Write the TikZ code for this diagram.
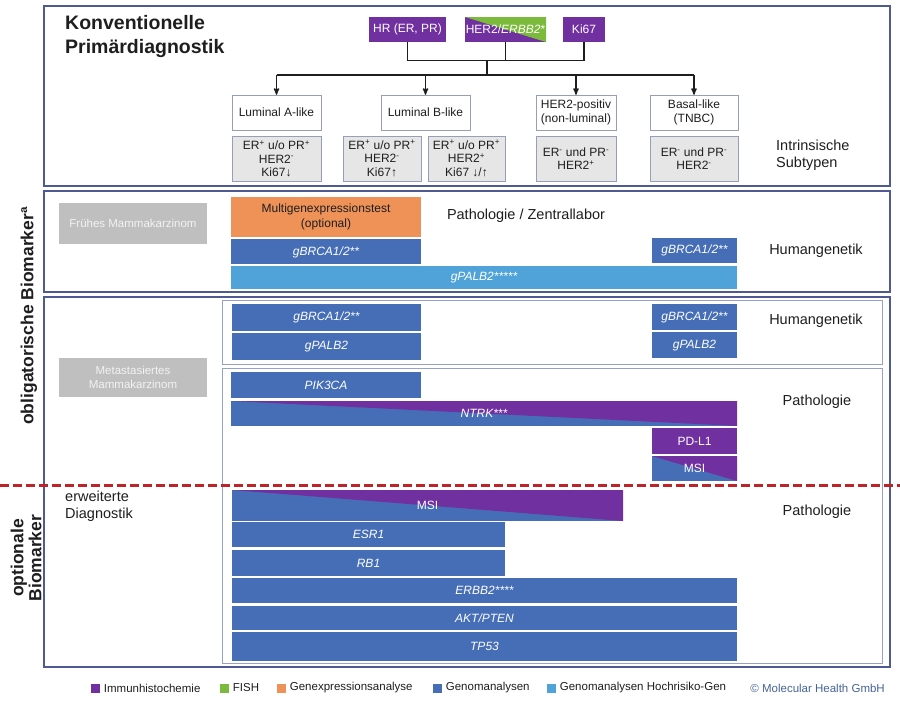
\documentclass[tikz,border=0pt]{standalone}
\usepackage{fontspec}
\setmainfont{Liberation Sans}
\usepackage{xcolor}
\definecolor{colorIHC}{RGB}{112,48,160}
\definecolor{colorFISH}{RGB}{124,186,60}
\definecolor{colorGEP}{RGB}{238,146,88}
\definecolor{colorGenom}{RGB}{70,110,182}
\definecolor{colorHighRisk}{RGB}{80,163,216}
\definecolor{colorFrame}{RGB}{78,90,145}
\definecolor{colorSubframe}{RGB}{150,160,200}
\definecolor{colorEntity}{RGB}{191,191,191}
\definecolor{colorProfile}{RGB}{230,230,230}
\definecolor{colorEdge}{RGB}{150,158,185}
\definecolor{colorCut}{RGB}{190,35,40}
\definecolor{colorText}{RGB}{30,30,30}
\definecolor{colorCopy}{RGB}{70,100,150}
\usepackage{tikz}
\usetikzlibrary{arrows, positioning}
\newcommand{\fsz}[2]{\fontsize{#1}{#2}\selectfont}
\tikzset{
  frame/.style={draw=colorFrame, line width=1.6pt},
  subframe/.style={draw=colorSubframe, line width=0.9pt},
  conn/.style={draw=colorText, line width=1.3pt},
  test/.style={fill=colorIHC, text=white, minimum height=25pt, font=\fsz{12}{14}},
  subtype/.style={draw=colorEdge, fill=white, text=colorText, align=center, minimum height=35pt, font=\fsz{12}{14.5}},
  profile/.style={draw=colorEdge, fill=colorProfile, text=colorText, align=center, minimum height=45pt, font=\fsz{12}{13.5}},
  entity/.style={fill=colorEntity, text=white!95!black, align=center, font=\fsz{11.5}{14}},
  bar/.style={fill=colorGenom, text=white, minimum height=25pt, font=\fsz{12}{14}\itshape},
  uppertri/.style={path picture={\fill[#1] (path picture bounding box.north west) -- (path picture bounding box.north east) -- (path picture bounding box.south east) -- cycle;}},
  site/.style={text=colorText, font=\fsz{14.5}{17}, align=left},
  axis/.style={rotate=90, text=colorText, font=\fsz{17.5}{18}\bfseries, align=center},
  key/.style={minimum width=9pt, minimum height=9pt},
  keytext/.style={right=4pt of #1, text=colorText, font=\fsz{11.5}{13}},
}

\begin{document}
\begin{tikzpicture}[x=1pt, y=-1pt, >=stealth', node distance=6pt, every node/.style={inner sep=0pt}]
\useasboundingbox (0,0) rectangle (900,704);
% frames
\draw[frame] (44,6) rectangle (890,186);
\draw[frame] (44,191) rectangle (890,292);
\draw[frame] (44,297) rectangle (890,667);
\draw[subframe] (222,300) rectangle (882,364);
\draw[subframe] (222,368) rectangle (882,663);

% Primaerdiagnostik
\node[anchor=north west, align=left, text=colorText, font=\fsz{19.5}{24}\bfseries] (title) at (65,15) {Konventionelle\\Primärdiagnostik};
\node[test, minimum width=77pt] (hr) at (407.5,29.5) {HR (ER, PR)};
\node[test, minimum width=81pt, uppertri=colorFISH] (her) at (505.5,29.5) {HER2/\textit{ERBB2}*};
\node[test, minimum width=42pt] (ki) at (584,29.5) {Ki67};

\node[subtype, minimum width=89pt] (lumA) at (276.5,112.5) {Luminal A-like};
\node[subtype, minimum width=89pt] (lumB) at (425.5,112.5) {Luminal B-like};
\node[subtype, minimum width=80pt] (herpos) at (576,112.5) {HER2-positiv\\(non-luminal)};
\node[subtype, minimum width=88pt] (basal) at (694,112.5) {Basal-like\\(TNBC)};

\node[profile, minimum width=89pt, below=6pt of lumA] (lumAprof) {ER\textsuperscript{+} u/o PR\textsuperscript{+}\\HER2\textsuperscript{-}\\Ki67↓};
\node[profile, minimum width=78pt] (lumBprof) at (382,158.5) {ER\textsuperscript{+} u/o PR\textsuperscript{+}\\HER2\textsuperscript{-}\\Ki67↑};
\node[profile, minimum width=77pt] (lumBprofb) at (466.5,158.5) {ER\textsuperscript{+} u/o PR\textsuperscript{+}\\HER2\textsuperscript{+}\\Ki67 ↓/↑};
\node[profile, minimum width=80pt, below=6pt of herpos] (herprof) {ER\textsuperscript{-} und PR\textsuperscript{-}\\HER2\textsuperscript{+}};
\node[profile, minimum width=88pt, below=6pt of basal] (basalprof) {ER\textsuperscript{-} und PR\textsuperscript{-}\\HER2\textsuperscript{-}};
\node[site, anchor=west] (intr) at (776,155) {Intrinsische\\Subtypen};

\coordinate (join) at (487,60);
\coordinate (bus) at (487,75);
\draw[conn] (hr.south) -- ++(0,18) -| (ki.south);
\draw[conn] (her.south) -- (her.south |- join);
\draw[conn] (join) -- (bus);
\draw[conn] (bus -| lumA) -- (bus -| basal);
\foreach \n in {lumA, lumB, herpos, basal}
  \draw[conn, ->] (bus -| \n) -- (\n.north);

% fruehes Mammakarzinom
\node[entity, minimum width=148pt, minimum height=41pt] (early) at (133,223.5) {Frühes Mammakarzinom};
\node[fill=colorGEP, text=colorText, align=center, minimum width=190pt, minimum height=40pt, font=\fsz{12}{15}] (gep) at (326,217) {Multigenexpressionstest\\(optional)};
\node[bar, minimum width=190pt, below=2pt of gep] (brcaE) {gBRCA1/2**};
\node[bar, minimum width=85pt] (brcaEr) at (694.5,250.5) {gBRCA1/2**};
\node[bar, fill=colorHighRisk, minimum width=506pt, minimum height=23pt] (palbE) at (484,277.5) {gPALB2*****};
\node[site] (lab) at (526,216) {Pathologie / Zentrallabor};
\node[site] (hgE) at (816,251) {Humangenetik};

% metastasiertes Mammakarzinom
\node[entity, minimum width=148pt, minimum height=39pt] (meta) at (133,377.5) {Metastasiertes\\Mammakarzinom};
\node[bar, minimum width=189pt, minimum height=27pt] (brcaM) at (326.5,317.5) {gBRCA1/2**};
\node[bar, minimum width=189pt, minimum height=27pt, below=2pt of brcaM] (palbM) {gPALB2};
\node[bar, minimum width=85pt, minimum height=26pt] (brcaMr) at (694.5,317) {gBRCA1/2**};
\node[bar, minimum width=85pt, minimum height=26pt, below=2pt of brcaMr] (palbMr) {gPALB2};
\node[site] (hgM) at (816,321) {Humangenetik};
\node[bar, minimum width=190pt, minimum height=26pt] (pik) at (326,385) {PIK3CA};
\node[bar, minimum width=506pt, uppertri=colorIHC] (ntrk) at (484,413.5) {NTRK***};
\node[test, minimum width=85pt, minimum height=26pt] (pdl) at (694.5,441) {PD-L1};
\node[bar, minimum width=85pt, uppertri=colorIHC, font=\fsz{12}{14}] (msiM) at (694.5,468.5) {MSI};
\node[site] (pathM) at (817,402) {Pathologie};

% optionale Biomarker
\draw[draw=colorCut, line width=3pt, dash pattern=on 9pt off 4pt] (0,485) -- (900,485);
\node[site, anchor=north west] (ext) at (65,491) {erweiterte\\Diagnostik};
\node[bar, minimum width=391pt, minimum height=31pt, uppertri=colorIHC, font=\fsz{12}{14}] (msiO) at (427.5,505.5) {MSI};
\node[bar, minimum width=273pt] (esr) at (368.5,534.5) {ESR1};
\node[bar, minimum width=273pt, minimum height=26pt] (rb) at (368.5,563) {RB1};
\node[bar, minimum width=505pt] (erbb) at (484.5,590.5) {ERBB2****};
\node[bar, minimum width=505pt, minimum height=24pt] (akt) at (484.5,618) {AKT/PTEN};
\node[bar, minimum width=505pt, minimum height=29pt] (tp) at (484.5,646.5) {TP53};
\node[site] (pathO) at (817,512) {Pathologie};

% Achsen
\node[axis] (oblig) at (29,316) {obligatorische Biomarkerª};
\node[axis] (opt) at (26,558) {optionale\\Biomarker};

% Legende
\node[key, fill=colorIHC] (kIHC) at (95,688) {};
\node[keytext=kIHC] (tIHC) {Immunhistochemie};
\node[key, fill=colorFISH] (kFISH) at (224,688) {};
\node[keytext=kFISH] (tFISH) {FISH};
\node[key, fill=colorGEP] (kGEP) at (281,688) {};
\node[keytext=kGEP] (tGEP) {Genexpressionsanalyse};
\node[key, fill=colorGenom] (kGen) at (437,688) {};
\node[keytext=kGen] (tGen) {Genomanalysen};
\node[key, fill=colorHighRisk] (kHR) at (551,688) {};
\node[keytext=kHR] (tHR) {Genomanalysen Hochrisiko-Gen};
\node[anchor=east, text=colorCopy, font=\fsz{11.5}{13}] (copy) at (885,688) {© Molecular Health GmbH};
\end{tikzpicture}
\end{document}
